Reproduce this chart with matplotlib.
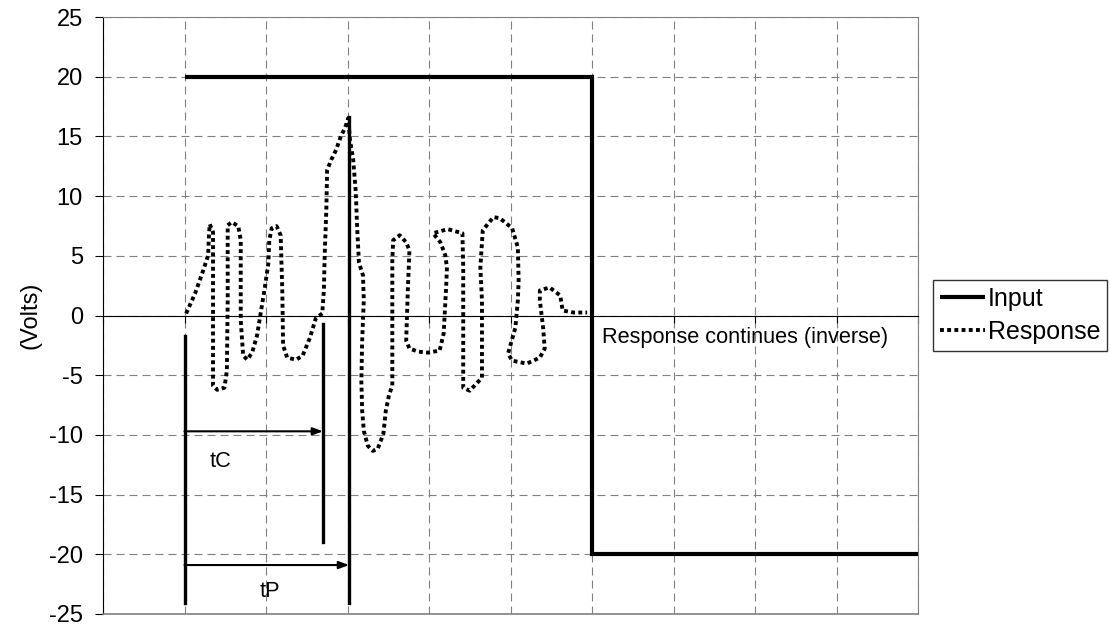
import matplotlib
matplotlib.use('agg')
import matplotlib.pyplot as plt

plt.rcParams['font.family'] = ['Liberation Sans', 'DejaVu Sans']

# step input: +20 V then reversed to -20 V
input_x = [1.0, 6.0, 6.0, 10.0]
input_y = [20.0, 20.0, -20.0, -20.0]

# measured response (volts), sampled along the trace
resp_x = [1.02, 1.13, 1.23, 1.29, 1.30, 1.31, 1.35, 1.35, 1.35, 1.40, 1.49, 1.52, 1.53, 1.53,
          1.58, 1.66, 1.69, 1.69, 1.72, 1.77, 1.83, 1.89, 1.94, 1.99, 2.03, 2.04, 2.07, 2.13,
          2.18, 2.20, 2.21, 2.26, 2.37, 2.45, 2.54, 2.61, 2.69, 2.71, 2.72, 2.74, 2.75, 2.80,
          2.86, 2.92, 2.97, 3.01, 3.03, 3.07, 3.10, 3.12, 3.14, 3.19, 3.20, 3.18, 3.17, 3.18,
          3.20, 3.25, 3.31, 3.37, 3.44, 3.47, 3.51, 3.55, 3.55, 3.55, 3.56, 3.64, 3.72, 3.76,
          3.74, 3.72, 3.76, 3.87, 3.99, 4.13, 4.18, 4.21, 4.22, 4.20, 4.14, 4.05, 4.23, 4.41,
          4.42, 4.42, 4.42, 4.50, 4.65, 4.65, 4.63, 4.66, 4.79, 4.87, 5.02, 5.09, 5.10, 5.09,
          5.06, 4.97, 5.02, 5.20, 5.36, 5.42, 5.40, 5.36, 5.36, 5.48, 5.61, 5.64, 5.77, 5.94]
resp_y = [0.17, 1.85, 3.78, 5.04, 6.72, 7.65, 6.97, 1.26, -5.88, -6.22, -6.05, -4.62, 1.26, 7.56,
          7.82, 7.48, 6.30, -0.42, -3.36, -3.70, -3.11, -1.68, 0.42, 2.52, 4.45, 6.30, 7.31, 7.48,
          6.72, 2.10, -2.52, -3.53, -3.70, -3.36, -1.85, -0.25, 0.17, 2.10, 5.04, 8.82, 12.18, 13.03,
          13.87, 15.04, 15.71, 16.55, 14.71, 13.03, 10.50, 7.14, 4.45, 3.36, 1.26, -2.10, -5.46, -7.98,
          -9.66, -10.92, -11.34, -11.18, -9.92, -7.98, -6.64, -5.88, -1.26, 4.62, 6.30, 6.72, 6.13, 5.46,
          2.10, -2.10, -2.77, -3.03, -3.11, -2.94, -1.50, 2.35, 4.03, 5.04, 6.13, 6.89, 7.23, 6.89,
          4.03, -1.26, -6.05, -6.30, -5.21, 1.26, 4.03, 7.14, 8.24, 8.15, 7.31, 5.71, 2.94, 1.26,
          -1.01, -3.19, -3.78, -4.03, -3.53, -2.77, -1.01, 1.26, 2.10, 2.35, 1.68, 0.42, 0.25, 0.25]

# timing markers
t0 = 1.0
tC = 2.70
tP = 3.02
t0_span = (-1.7, -24.1)
tC_span = (-0.7, -19.0)
tP_span = (16.6, -24.1)
tC_arrow_y = -9.7
tP_arrow_y = -20.9

yticks = [-25, -20, -15, -10, -5, 0, 5, 10, 15, 20, 25]

fig = plt.figure(figsize=(11.11, 6.32), dpi=100)
ax = fig.add_axes([103 / 1111, 1 - 614 / 632, 815 / 1111, 597 / 632])
ax.set_xlim(0, 10)
ax.set_ylim(-25, 25)

grey = '#808080'
ax.grid(True, color=grey, linestyle=(0, (7.2, 4.5)), linewidth=0.8)
ax.set_axisbelow(True)

ax.plot(input_x, input_y, color='black', linewidth=3.0, solid_capstyle='butt',
        solid_joinstyle='miter', label='Input', zorder=4)
ax.plot(resp_x, resp_y, color='black', linewidth=2.8, linestyle=(0, (1, 0.85)),
        dash_capstyle='butt', label='Response', zorder=4)

# marker verticals
ax.plot([t0, t0], t0_span, color='black', linewidth=2.4, zorder=5)
ax.plot([tC, tC], tC_span, color='black', linewidth=2.4, zorder=5)
ax.plot([tP, tP], tP_span, color='black', linewidth=2.4, zorder=5)

arrow_kw = dict(arrowstyle='-|>,head_length=0.6,head_width=0.22', color='black',
                linewidth=1.5, shrinkA=0, shrinkB=0)
ax.annotate('', xy=(tC, tC_arrow_y), xytext=(t0, tC_arrow_y), arrowprops=arrow_kw, zorder=5)
ax.annotate('', xy=(tP, tP_arrow_y), xytext=(t0, tP_arrow_y), arrowprops=arrow_kw, zorder=5)

ax.text(1.44, -12.2, 'tC', fontsize=15.7, ha='center', va='center')
ax.text(2.05, -23.1, 'tP', fontsize=15.7, ha='center', va='center')
ax.text(6.12, -1.85, 'Response continues (inverse)', fontsize=15.7, ha='left', va='center')

# axes: y axis black on the left, x axis running through zero
for side in ('top', 'right'):
    ax.spines[side].set_color(grey)
ax.spines['left'].set_color('black')
ax.spines['bottom'].set_position(('data', 0))
ax.spines['bottom'].set_color('black')
ax.spines['bottom'].set_zorder(3)
ax.axhline(-25, color=grey, linewidth=1.2, clip_on=False, zorder=3)

ax.set_xticks(range(0, 11))
ax.tick_params(axis='x', direction='out', length=5, labelbottom=False, color='black')
ax.set_yticks(yticks)
ax.set_yticklabels([str(v) for v in yticks])
ax.tick_params(axis='y', direction='out', length=6, labelsize=17, pad=8.5, color='black')
ax.set_ylabel('(Volts)', fontsize=17, labelpad=5)

leg = fig.legend(loc='upper left', bbox_to_anchor=(933 / 1111, 1 - 280 / 632),
                 fontsize=18, frameon=True, fancybox=False, borderaxespad=0,
                 handlelength=1.8, handletextpad=0.1, labelspacing=0.35,
                 borderpad=0.28)
leg.get_frame().set_edgecolor('black')
leg.get_frame().set_linewidth(1.0)

fig.savefig('out.png', dpi=100)
